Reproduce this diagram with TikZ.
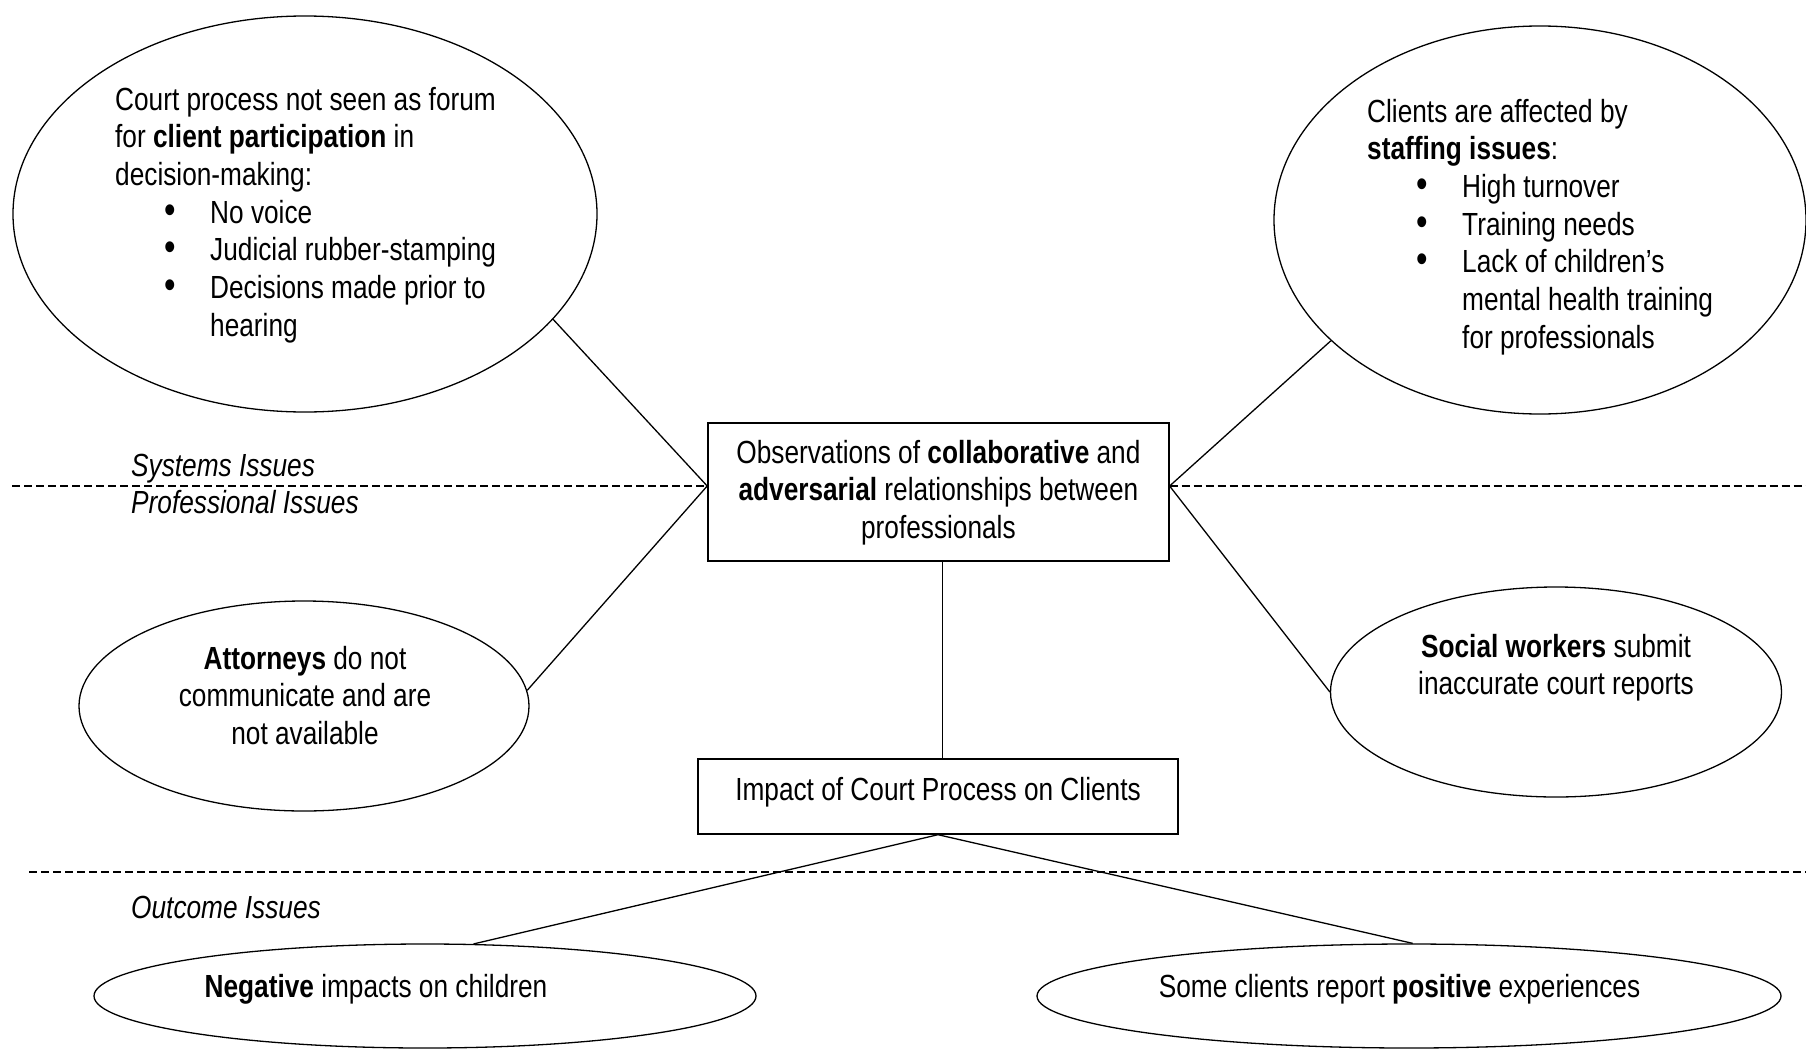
\documentclass[tikz,border=0pt]{standalone}
\usepackage{fontspec}
\setmainfont{Liberation Sans}[FakeStretch=0.82]
\usetikzlibrary{shapes.geometric}
\newcommand{\bitem}[1]{\hspace*{49pt}\makebox[46pt][l]{\scalebox{1.25}{\textbullet}}#1}
\newcommand{\bcont}[1]{\hspace*{95pt}#1}
\begin{document}
\begin{tikzpicture}[x=1pt,y=-1pt,
  every node/.style={font=\fontsize{32}{37.7}\selectfont},
  oval/.style={draw,ellipse,line width=1.3pt,inner sep=0pt},
  box/.style={draw,rectangle,line width=1.4pt,inner sep=0pt},
  txt/.style={inner sep=0pt,text width=#1},
  lbl/.style={inner sep=0pt,anchor=base west,font=\fontsize{32}{37.7}\selectfont\itshape},
  link/.style={line width=1.3pt},
  sep/.style={line width=1.3pt,dash pattern=on 8pt off 4pt},
]
\useasboundingbox (0,0) rectangle (1806,1049);
\fill[white] (0,0) rectangle (1806,1049);

% shapes
\node[oval,minimum width=584pt,minimum height=396pt] (tl) at (305,214) {};
\node[oval,minimum width=532pt,minimum height=388pt] (tr) at (1540,220) {};
\node[oval,minimum width=450pt,minimum height=210pt] (lm) at (304,706) {};
\node[oval,minimum width=451pt,minimum height=210pt] (rm) at (1556,692) {};
\node[oval,minimum width=662pt,minimum height=104pt] (bl) at (425,996) {};
\node[oval,minimum width=744pt,minimum height=104pt] (br) at (1409,996) {};
\node[box,minimum width=461pt,minimum height=138pt] (obs) at (938.4,492) {};
\node[box,minimum width=480pt,minimum height=75pt] (imp) at (938,796.5) {};

% texts
\node[txt=440pt,align=flush left,anchor=base west] (tlt) at (115,110)
  {Court process not seen as forum\\
   for \textbf{client participation} in\\
   decision-making:\\
   \bitem{No voice}\\
   \bitem{Judicial rubber-stamping}\\
   \bitem{Decisions made prior to}\\
   \bcont{hearing}};
\node[txt=420pt,align=flush left,anchor=base west] (trt) at (1367,122)
  {Clients are affected by\\
   \textbf{staffing issues}:\\
   \bitem{High turnover}\\
   \bitem{Training needs}\\
   \bitem{Lack of children’s}\\
   \bcont{mental health training}\\
   \bcont{for professionals}};
\node[txt=460pt,align=flush center,anchor=base] (obst) at (938.4,463)
  {Observations of \textbf{collaborative} and\\
   \textbf{adversarial} relationships between\\
   professionals};
\node[inner sep=0pt,anchor=base] (impt) at (938,800) {Impact of Court Process on Clients};
\node[txt=400pt,align=flush center,anchor=base] (lmt) at (305,669)
  {\textbf{Attorneys} do not\\ communicate and are\\ not available};
\node[txt=420pt,align=flush center,anchor=base] (rmt) at (1556,657)
  {\textbf{Social workers} submit\\ inaccurate court reports};
\node[inner sep=0pt,anchor=base] (blt) at (376,997) {\textbf{Negative} impacts on children};
\node[inner sep=0pt,anchor=base] (brt) at (1399.5,997) {Some clients report \textbf{positive} experiences};

\node[lbl] (sys) at (131,476) {Systems Issues};
\node[lbl] (pro) at (131,513) {Professional Issues};
\node[lbl] (out) at (131,918) {Outcome Issues};

% separators
\coordinate (d1a) at (12,486);
\coordinate (d1b) at (1806,486);
\coordinate (d2a) at (29,872);
\coordinate (d2b) at (1806,872);
\coordinate (jl) at (obs.west |- d1a);
\coordinate (jr) at (obs.east |- d1a);
\draw[sep] (d1a) -- (jl);
\draw[sep] (jr) -- (d1b);
\draw[sep] (d2a) -- (d2b);

% connectors
\draw[link] (tl.-23.4) -- (jl);
\draw[link] (lm.4) -- (jl);
\draw[link] (tr.210.1) -- (jr);
\draw[link] (rm.west) -- (jr);
\coordinate (vx) at ([xshift=4pt]obs.south);
\draw[link] (vx) -- (vx |- imp.north);
\draw[link] (imp.south) -- (bl.47);
\draw[link] (imp.south) -- (br.86);
\end{tikzpicture}
\end{document}
